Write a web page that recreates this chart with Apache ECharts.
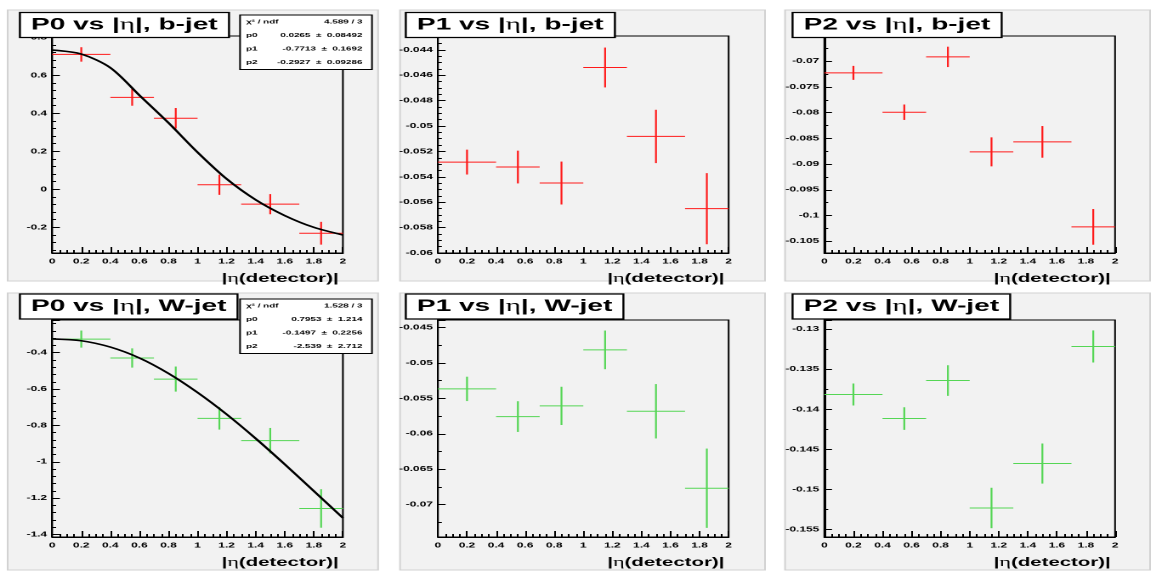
<!DOCTYPE html>
<html>
<head>
<meta charset="utf-8">
<script src="https://cdn.jsdelivr.net/npm/echarts@6/dist/echarts.min.js"></script>
<style>
  html, body { margin: 0; padding: 0; background: #fff; overflow: hidden; }
  /* the original ROOT canvas was 680 px wide and got stretched to 1156 */
  #chart-container { width: 680px; height: 572px; transform: scaleX(1.7); transform-origin: 0 0; }
</style>
</head>
<body>
<div id="chart-container"></div>
<script>
// bins in |eta|
const binEdges = [0, 0.4, 0.7, 1.0, 1.3, 1.7, 2.0];
const binCenters = [0.2, 0.55, 0.85, 1.15, 1.5, 1.85];

// b-jet
const p0bJet = [0.710, 0.484, 0.374, 0.024, -0.078, -0.231];
const p0bJetErr = [0.038, 0.044, 0.054, 0.053, 0.053, 0.060];
const p1bJet = [-0.05284, -0.05323, -0.05449, -0.04539, -0.05082, -0.05651];
const p1bJetErr = [0.00098, 0.00129, 0.00169, 0.00157, 0.0021, 0.0028];
const p2bJet = [-0.07227, -0.07992, -0.06916, -0.08763, -0.08569, -0.10222];
const p2bJetErr = [0.00136, 0.0015, 0.00198, 0.00282, 0.00308, 0.00347];

// W-jet
const p0wJet = [-0.325, -0.429, -0.545, -0.761, -0.884, -1.257];
const p0wJetErr = [0.047, 0.053, 0.069, 0.062, 0.070, 0.106];
const p1wJet = [-0.05366, -0.05757, -0.05606, -0.04815, -0.05682, -0.06769];
const p1wJetErr = [0.00172, 0.00217, 0.0027, 0.00273, 0.00384, 0.0056];
const p2wJet = [-0.13815, -0.14115, -0.13641, -0.15230, -0.14676, -0.13216];
const p2wJetErr = [0.00137, 0.00141, 0.00191, 0.00252, 0.0025, 0.002];

// fitted curves
const fitX = [0, 0.2, 0.4, 0.6, 0.8, 1.0, 1.2, 1.4, 1.6, 1.8, 2.0];
const fitB = [0.733, 0.712, 0.64, 0.495, 0.35, 0.195, 0.055, -0.055, -0.138, -0.2, -0.24];
const fitW = [-0.324, -0.334, -0.369, -0.429, -0.514, -0.619, -0.739, -0.872, -1.014, -1.161, -1.309];

// fit stat boxes
const statsLabels = ['χ² / ndf', 'p0', 'p1', 'p2'];
const statsB = ['4.589 / 3', '0.0265  ±  0.08492', '-0.7713  ±  0.1692', '-0.2927  ±  0.09286'];
const statsW = ['1.528 / 3', '0.7953  ±  1.214', '-0.1497  ±  0.2256', '-2.539  ±  2.712'];

const red = '#ff1a1a';
const green = '#55d655';

const panels = [
  { title: 'P0 vs |{e|η}|, b-jet', vals: p0bJet, errs: p0bJetErr, color: red, fit: fitB, stats: statsB, ymin: -0.335, ymax: 0.807, split: 6, minor: 5, showMin: false },
  { title: 'P1 vs |{e|η}|, b-jet', vals: p1bJet, errs: p1bJetErr, color: red, ymin: -0.06, ymax: -0.04291, split: 8, minor: 4, showMin: true },
  { title: 'P2 vs |{e|η}|, b-jet', vals: p2bJet, errs: p2bJetErr, color: red, ymin: -0.1073, ymax: -0.0651, split: 8, minor: 2, showMin: false },
  { title: 'P0 vs |{e|η}|, W-jet', vals: p0wJet, errs: p0wJetErr, color: green, fit: fitW, stats: statsW, ymin: -1.414, ymax: -0.22, split: 6, minor: 5, showMin: false },
  { title: 'P1 vs |{e|η}|, W-jet', vals: p1wJet, errs: p1wJetErr, color: green, ymin: -0.07458, ymax: -0.04393, split: 6, minor: 2, showMin: false },
  { title: 'P2 vs |{e|η}|, W-jet', vals: p2wJet, errs: p2wJetErr, color: green, ymin: -0.15592, ymax: -0.12886, split: 5, minor: 2, showMin: false }
];

// layout (unstretched px)
const colLeft = [30.7, 257.6, 484.9];
const rowTop = [36, 320];
const gridW = 171, gridH = 217;
const padX = [[4.5, 222.4], [235.3, 450], [461.8, 676.5]];
const padY = [[10, 281], [293, 570]];
const titleLeft = [11.2, 238.2, 465.7];
const titleTop = [12, 293.5];
const statsTop = [15, 299];

const font = 'Liberation Sans';
const labelStyle = { color: '#000', fontSize: 7, fontWeight: 'bold', fontFamily: font };

let grids = [], xAxes = [], yAxes = [], series = [], titles = [], graphics = [];

padY.forEach((py) => {
  padX.forEach((px) => {
    graphics.push({
      type: 'rect', z: -10, silent: true,
      shape: { x: px[0], y: py[0], width: px[1] - px[0], height: py[1] - py[0] },
      style: { fill: '#f2f2f2', stroke: '#d2d2d2', lineWidth: 1 }
    });
  });
});

panels.forEach((p, i) => {
  let col = i % 3, row = Math.floor(i / 3);
  grids.push({
    left: colLeft[col], top: rowTop[row], width: gridW, height: gridH,
    show: true, backgroundColor: 'transparent', borderColor: '#000', borderWidth: 1,
    outerBoundsMode: 'none'
  });
  xAxes.push({
    type: 'value', gridIndex: i, min: 0, max: 2, interval: 0.2,
    axisLine: { show: true, onZero: false, lineStyle: { color: '#000', width: 1 } },
    axisTick: { show: true, inside: true, length: 6, lineStyle: { color: '#000', width: 1 } },
    minorTick: { show: true, splitNumber: 4, length: 3, lineStyle: { color: '#000', width: 1 } },
    splitLine: { show: false },
    axisLabel: { ...labelStyle, margin: 5, showMinLabel: true, showMaxLabel: true },
    name: '{b||}{e|η}{b|(detector)|}',
    nameLocation: 'end',
    nameGap: -2.5,
    nameMoveOverlap: false,
    nameTextStyle: {
      align: 'right', verticalAlign: 'top', padding: [19, 0, 0, 0],
      rich: {
        b: { fontFamily: font, fontWeight: 'bold', fontSize: 12, color: '#000' },
        e: { fontFamily: 'Liberation Serif', fontWeight: 'normal', fontSize: 13, color: '#000' }
      }
    }
  });
  yAxes.push({
    type: 'value', gridIndex: i, min: p.ymin, max: p.ymax, splitNumber: p.split,
    axisLine: { show: true, onZero: false, lineStyle: { color: '#000', width: 1 } },
    axisTick: { show: true, inside: true, length: 4.5, lineStyle: { color: '#000', width: 1 } },
    minorTick: { show: true, splitNumber: p.minor, length: 2.3, lineStyle: { color: '#000', width: 1 } },
    splitLine: { show: false },
    axisLabel: { ...labelStyle, margin: 3, showMinLabel: p.showMin, showMaxLabel: false }
  });

  let color = p.color;
  series.push({
    type: 'custom', xAxisIndex: i, yAxisIndex: i, z: 3, silent: true,
    data: p.vals.map((v, k) => [binCenters[k], v, binEdges[k], binEdges[k + 1], p.errs[k]]),
    encode: { x: [0, 2, 3], y: 1 },
    renderItem: function (params, api) {
      let xc = api.value(0), y = api.value(1), lo = api.value(2), hi = api.value(3), e = api.value(4);
      let pL = api.coord([lo, y]), pR = api.coord([hi, y]);
      let pT = api.coord([xc, y + e]), pB = api.coord([xc, y - e]);
      return {
        type: 'group',
        children: [
          { type: 'line', shape: { x1: pL[0], y1: pL[1], x2: pR[0], y2: pR[1] }, style: { stroke: color, lineWidth: 1 } },
          { type: 'line', shape: { x1: pT[0], y1: pT[1], x2: pB[0], y2: pB[1] }, style: { stroke: color, lineWidth: 1.1 } }
        ]
      };
    }
  });

  if (p.fit) {
    series.push({
      type: 'line', xAxisIndex: i, yAxisIndex: i, z: 4, silent: true,
      data: fitX.map((x, k) => [x, p.fit[k]]),
      smooth: 0.3, symbol: 'none',
      lineStyle: { color: '#000', width: 1.6 }
    });
  }

  titles.push({
    left: titleLeft[col], top: titleTop[row],
    text: p.title,
    padding: [4, 7, 4, 7],
    backgroundColor: '#fff', borderColor: '#000', borderWidth: 1.2,
    textStyle: {
      fontFamily: font, fontWeight: 'bold', fontSize: 16.5, lineHeight: 18, color: '#000',
      rich: { e: { fontFamily: 'Liberation Serif', fontWeight: 'normal', fontSize: 17, color: '#000' } }
    }
  });

  if (p.stats) {
    let children = [{
      type: 'rect', shape: { x: 0, y: 0, width: 77.6, height: 54.5 },
      style: { fill: '#fff', stroke: '#000', lineWidth: 1 }
    }];
    statsLabels.forEach((lab, r) => {
      children.push({
        type: 'text', x: 3.5, y: 7 + 13.5 * r,
        style: { text: lab, fontSize: 5.8, fontWeight: 'bold', fontFamily: font, fill: '#000', align: 'left', verticalAlign: 'middle' }
      });
      children.push({
        type: 'text', x: 72, y: 7 + 13.5 * r,
        style: { text: p.stats[r], fontSize: 5.8, fontWeight: 'bold', fontFamily: font, fill: '#000', align: 'right', verticalAlign: 'middle' }
      });
    });
    graphics.push({ type: 'group', x: 141.2, y: statsTop[row], z: 100, children });
  }
});

let option = {
  animation: false,
  backgroundColor: '#fff',
  title: titles,
  grid: grids,
  xAxis: xAxes,
  yAxis: yAxes,
  series,
  graphic: { elements: graphics }
};

var myChart = echarts.init(document.getElementById('chart-container'), null, { renderer: 'canvas', devicePixelRatio: 2 });
myChart.setOption(option);
</script>
</body>
</html>
